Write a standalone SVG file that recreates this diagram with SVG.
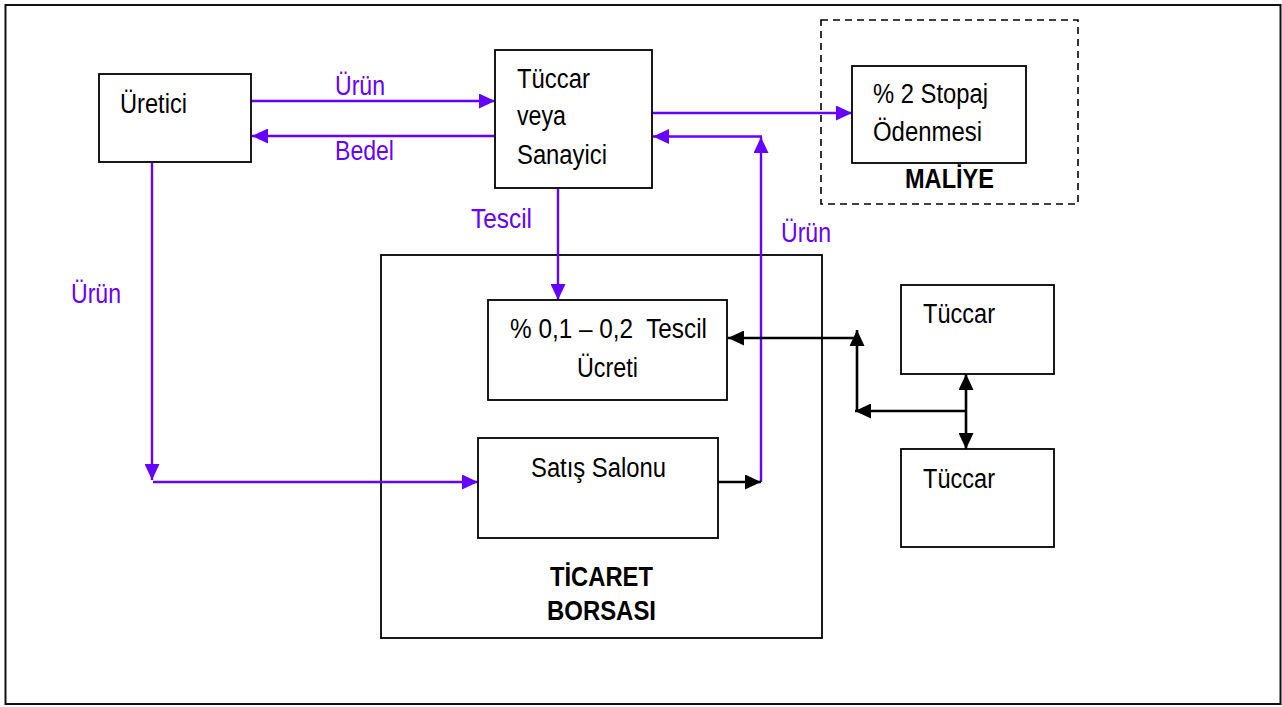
<svg xmlns="http://www.w3.org/2000/svg" width="1282" height="707" viewBox="0 0 1282 707">
<style>
text{font-family:"Liberation Sans",Arial,sans-serif;font-size:27px;fill:#000}
.b{font-weight:bold}
.p{fill:#6600ff}
.box{fill:#fff;stroke:#000;stroke-width:1.8}
.pl{fill:none;stroke:#6600ff;stroke-width:2.4}
.bl{fill:none;stroke:#000;stroke-width:2.6}
</style>
<defs>
<marker id="ap" viewBox="0 0 16 15" markerWidth="16" markerHeight="15" refX="16" refY="7.5" orient="auto" markerUnits="userSpaceOnUse"><path d="M0,0L16,7.5L0,15z" fill="#6600ff"/></marker>
<marker id="ab" viewBox="0 0 16 15" markerWidth="16" markerHeight="15" refX="16" refY="7.5" orient="auto" markerUnits="userSpaceOnUse"><path d="M0,0L16,7.5L0,15z" fill="#000"/></marker>
</defs>
<rect x="0" y="0" width="1282" height="707" fill="#fff"/>
<rect x="5.5" y="5" width="1275" height="699" fill="none" stroke="#111" stroke-width="2"/>

<g id="maliye">
<rect x="821" y="20" width="257" height="184" fill="none" stroke="#000" stroke-width="1.6" stroke-dasharray="7,5"/>
<text class="b" x="905" y="188" textLength="89" lengthAdjust="spacingAndGlyphs">MALİYE</text>
</g>
<g id="borsa">
<rect x="381" y="255" width="441" height="383" fill="none" stroke="#000" stroke-width="1.8"/>
<text class="b" x="550" y="586" textLength="103" lengthAdjust="spacingAndGlyphs">TİCARET</text>
<text class="b" x="547" y="620" textLength="109" lengthAdjust="spacingAndGlyphs">BORSASI</text>
</g>

<g id="connectors">
<path class="pl" d="M251,101H495" marker-end="url(#ap)"/>
<path class="pl" d="M495,136H252" marker-end="url(#ap)"/>
<path class="pl" d="M652,113H852" marker-end="url(#ap)"/>
<path class="pl" d="M761,482V137" marker-end="url(#ap)"/>
<path class="pl" d="M762,136.5H653" marker-end="url(#ap)"/>
<path class="pl" d="M558,188V300" marker-end="url(#ap)"/>
<path class="pl" d="M152,162V480" marker-end="url(#ap)"/>
<path class="pl" d="M153,482H478" marker-end="url(#ap)"/>
<path class="bl" d="M718,482H761" marker-end="url(#ab)"/>
<path class="bl" d="M857,338H728" marker-end="url(#ab)"/>
<path class="bl" d="M857,411V330" marker-end="url(#ab)"/>
<path class="bl" d="M966,411H855" marker-end="url(#ab)"/>
<path class="bl" d="M966,411V374" marker-end="url(#ab)"/>
<path class="bl" d="M966,411V449" marker-end="url(#ab)"/>
<text class="p" x="335" y="95" textLength="50" lengthAdjust="spacingAndGlyphs">Ürün</text>
<text class="p" x="335" y="160" textLength="59" lengthAdjust="spacingAndGlyphs">Bedel</text>
<text class="p" x="471" y="228" textLength="61" lengthAdjust="spacingAndGlyphs">Tescil</text>
<text class="p" x="781" y="242" textLength="50" lengthAdjust="spacingAndGlyphs">Ürün</text>
<text class="p" x="71" y="303" textLength="50" lengthAdjust="spacingAndGlyphs">Ürün</text>
</g>

<g id="uretici">
<rect class="box" x="99" y="74" width="152" height="88"/>
<text x="120" y="113" textLength="67" lengthAdjust="spacingAndGlyphs">Üretici</text>
</g>
<g id="tuccar-sanayici">
<rect class="box" x="495" y="50" width="157" height="138"/>
<text x="517" y="88" textLength="73" lengthAdjust="spacingAndGlyphs">Tüccar</text>
<text x="517" y="125" textLength="49" lengthAdjust="spacingAndGlyphs">veya</text>
<text x="517" y="164" textLength="90" lengthAdjust="spacingAndGlyphs">Sanayici</text>
</g>
<g id="stopaj">
<rect class="box" x="852" y="66" width="174" height="97"/>
<text x="873" y="103" textLength="115" lengthAdjust="spacingAndGlyphs">% 2 Stopaj</text>
<text x="873" y="141" textLength="109" lengthAdjust="spacingAndGlyphs">Ödenmesi</text>
</g>
<g id="tescil-ucreti">
<rect class="box" x="488" y="300" width="239" height="100"/>
<text x="510" y="338" textLength="197" lengthAdjust="spacingAndGlyphs" xml:space="preserve">% 0,1 – 0,2  Tescil</text>
<text x="577" y="377" textLength="61" lengthAdjust="spacingAndGlyphs">Ücreti</text>
</g>
<g id="satis-salonu">
<rect class="box" x="478" y="438" width="240" height="100"/>
<text x="531" y="477" textLength="135" lengthAdjust="spacingAndGlyphs">Satış Salonu</text>
</g>
<g id="tuccar-1">
<rect class="box" x="901" y="285" width="153" height="89"/>
<text x="923" y="323" textLength="72" lengthAdjust="spacingAndGlyphs">Tüccar</text>
</g>
<g id="tuccar-2">
<rect class="box" x="901" y="449" width="153" height="98"/>
<text x="923" y="488" textLength="72" lengthAdjust="spacingAndGlyphs">Tüccar</text>
</g>
</svg>
